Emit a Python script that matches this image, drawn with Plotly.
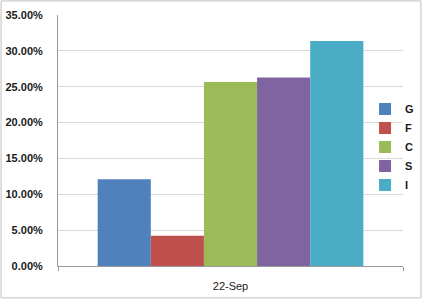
import plotly.graph_objects as go

categories = ["22-Sep"]
series_names = ["G", "F", "C", "S", "I"]
series_values = [0.1209, 0.0423, 0.2566, 0.2630, 0.3137]
series_colors = ["#4F81BD", "#C0504D", "#9BBB59", "#8064A2", "#4BACC6"]
y_ticks = [0, 0.05, 0.10, 0.15, 0.20, 0.25, 0.30, 0.35]

fig = go.Figure()
for name, val, col in zip(series_names, series_values, series_colors):
    fig.add_trace(go.Bar(name=name, x=categories, y=[val], marker=dict(color=col, line=dict(width=0))))

fig.update_layout(
    width=423, height=300,
    margin=dict(l=58, r=20, t=15, b=34, autoexpand=False),
    paper_bgcolor="white", plot_bgcolor="white",
    barmode="group", bargap=0.23, bargroupgap=0,
    font=dict(family="Liberation Sans, Arial, sans-serif", size=11, color="#1a1a1a"),
    showlegend=True,
    legend=dict(
        x=0.89, y=0.683, xanchor="left", yanchor="top",
        font=dict(size=11, family="Liberation Sans, Arial, sans-serif", weight="bold"),
        bgcolor="rgba(0,0,0,0)", tracegroupgap=0, itemwidth=30,
    ),
    yaxis=dict(
        range=[0, 0.35], tickvals=y_ticks, tickformat=".2%",
        showgrid=True, gridcolor="#D9D9D9", gridwidth=1,
        showline=True, linecolor="#9A9A9A", linewidth=1,
        ticks="", ticklabelstandoff=12,
        tickfont=dict(size=11, weight="bold", color="#1a1a1a"),
        zeroline=False,
    ),
    xaxis=dict(
        showline=True, linecolor="#9A9A9A", linewidth=1,
        ticks="outside", ticklen=4, tickcolor="#9A9A9A", tickson="boundaries",
        ticklabelstandoff=10,
        tickfont=dict(size=11, color="#1a1a1a"),
        showgrid=False,
    ),
    shapes=[dict(type="rect", xref="paper", yref="paper",
                 x0=-0.165, x1=1.052, y0=-0.127, y1=1.056,
                 line=dict(color="#BFBFBF", width=1), layer="below")],
)

fig.write_html("out.html")
